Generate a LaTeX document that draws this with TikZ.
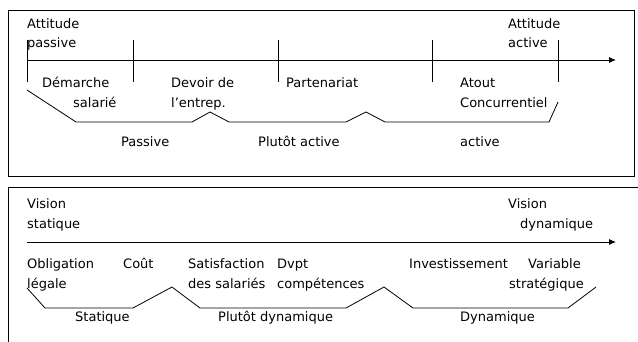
\documentclass[tikz,border=0pt]{standalone}
\usepackage{fontspec}
\setmainfont{DejaVu Sans}
\usetikzlibrary{arrows.meta}
\begin{document}
\begin{tikzpicture}[x=1pt,y=-1pt,
  lbl/.style={inner sep=0pt,anchor=base west,font=\fontsize{13}{15}\selectfont},
  frame/.style={line width=0.9pt},
  axis/.style={line width=0.9pt,-{Latex[length=7pt,width=6pt]}},
  tick/.style={line width=0.9pt},
  zig/.style={line width=0.8pt}]
\clip (0,0) rectangle (638,341);
% ---------- top panel ----------
\draw[frame] (8,10) rectangle (634,176);
\coordinate (ta0) at (27,60);
\coordinate (ta1) at (616,60);
\draw[axis] (ta0) -- (ta1);
\foreach \x [count=\i] in {27,133,278,432,558}{
  \coordinate (tt\i a) at (\x,40);
  \coordinate (tt\i b) at (\x,82);
  \draw[tick] (tt\i a) -- (tt\i b);
}
\node[lbl] (attA) at (27,28) {Attitude};
\node[lbl] (attB) at (27,47) {passive};
\node[lbl] (actA) at (508,28) {Attitude};
\node[lbl] (actB) at (508,47) {active};
\node[lbl] (demA) at (42,87) {Démarche};
\node[lbl] (demB) at (73,107) {salarié};
\node[lbl] (devA) at (171,87) {Devoir de};
\node[lbl] (devB) at (171,107) {l’entrep.};
\node[lbl] (part) at (286,87) {Partenariat};
\node[lbl] (atoA) at (460,87) {Atout};
\node[lbl] (atoB) at (460,107) {Concurrentiel};
\node[lbl] (pas) at (121,146) {Passive};
\node[lbl] (pla) at (258,146) {Plutôt active};
\node[lbl] (act) at (460,146) {active};
\coordinate (z1) at (27,90);
\coordinate (z2) at (76,122);
\coordinate (z3) at (192,122);
\coordinate (z4) at (210,112);
\coordinate (z5) at (229,122);
\coordinate (z6) at (346,122);
\coordinate (z7) at (366,112);
\coordinate (z8) at (385,122);
\coordinate (z9) at (549,122);
\coordinate (z10) at (558,102);
\draw[zig] (z1) -- (z2) -- (z3) -- (z4) -- (z5) -- (z6) -- (z7) -- (z8) -- (z9) -- (z10);
% ---------- bottom panel ----------
\draw[frame] (645,187) -- (8,187) -- (8,350);
\coordinate (ba0) at (27,242);
\coordinate (ba1) at (616,242);
\draw[axis] (ba0) -- (ba1);
\node[lbl] (visA) at (27,208) {Vision};
\node[lbl] (visB) at (27,228) {statique};
\node[lbl] (vdA) at (508,208) {Vision};
\node[lbl] (vdB) at (520,228) {dynamique};
\node[lbl] (oblA) at (27,268) {Obligation};
\node[lbl] (oblB) at (27,288) {légale};
\node[lbl] (cout) at (123,268) {Coût};
\node[lbl] (satA) at (188,268) {Satisfaction};
\node[lbl] (satB) at (188,288) {des salariés};
\node[lbl] (dvA) at (277,268) {Dvpt};
\node[lbl] (dvB) at (277,288) {compétences};
\node[lbl] (inv) at (409,268) {Investissement};
\node[lbl] (varA) at (528,268) {Variable};
\node[lbl] (varB) at (509,288) {stratégique};
\node[lbl] (sta) at (75,321) {Statique};
\node[lbl] (pld) at (218,321) {Plutôt dynamique};
\node[lbl] (dyn) at (460,321) {Dynamique};
\coordinate (y1) at (27,288);
\coordinate (y2) at (45,308);
\coordinate (y3) at (133,308);
\coordinate (y4) at (172,287);
\coordinate (y5) at (200,308);
\coordinate (y6) at (346,308);
\coordinate (y7) at (384,287);
\coordinate (y8) at (413,308);
\coordinate (y9) at (568,308);
\coordinate (y10) at (596,287);
\draw[zig] (y1) -- (y2) -- (y3) -- (y4) -- (y5) -- (y6) -- (y7) -- (y8) -- (y9) -- (y10);
\end{tikzpicture}
\end{document}
